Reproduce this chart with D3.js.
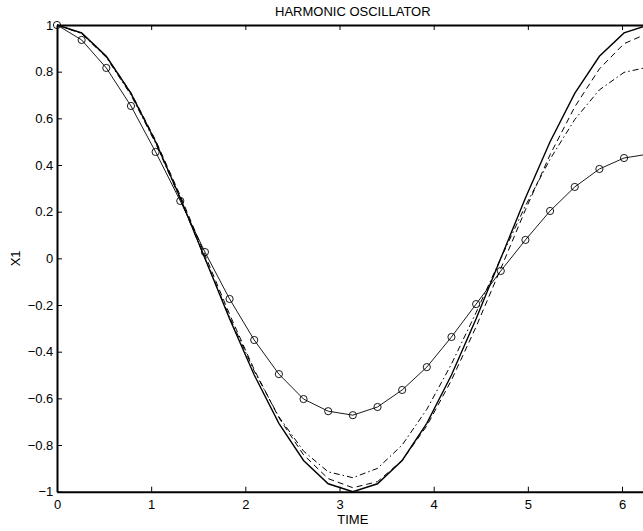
<!DOCTYPE html>
<html>
<head>
<meta charset="utf-8">
<script src="https://cdn.jsdelivr.net/npm/d3@7"></script>
<style>
  body { margin: 0; background: #fff; }
  svg { display: block; font-family: "Liberation Sans", Arial, sans-serif; }
  .axis text { font-size: 13px; fill: #000; }
  .axis path.domain { stroke: #000; stroke-width: 2; }
  .axis line { stroke: #000; }
</style>
</head>
<body>
<div id="plot"></div>
<script>

// time steps (pi/12)
const time = [0, 0.2618, 0.5236, 0.7854, 1.0472, 1.309, 1.5708, 1.8326, 2.0944, 2.3562,
  2.618, 2.8798, 3.1416, 3.4034, 3.6652, 3.927, 4.1888, 4.4506, 4.7124, 4.9742,
  5.236, 5.4978, 5.7596, 6.0214, 6.2832];

// solid line
const exact = [1, 0.966, 0.866, 0.707, 0.5, 0.259, 0, -0.259, -0.5, -0.707,
  -0.866, -0.966, -1, -0.966, -0.866, -0.707, -0.5, -0.259, 0, 0.259,
  0.5, 0.707, 0.866, 0.966, 1];

// dashed line
const dashed = [1, 0.965, 0.866, 0.71, 0.506, 0.269, 0.015, -0.24, -0.477, -0.683,
  -0.842, -0.944, -0.983, -0.957, -0.866, -0.718, -0.522, -0.293, -0.044, 0.208,
  0.444, 0.649, 0.812, 0.92, 0.966];

// dash-dot line
const dashDot = [1, 0.963, 0.861, 0.7, 0.493, 0.254, 0, -0.252, -0.483, -0.679,
  -0.826, -0.915, -0.94, -0.9, -0.8, -0.647, -0.453, -0.232, 0, 0.225,
  0.425, 0.595, 0.722, 0.797, 0.82];

// solid line with circles
const circles = [1, 0.936, 0.816, 0.653, 0.456, 0.246, 0.027, -0.174, -0.35, -0.496,
  -0.603, -0.655, -0.672, -0.637, -0.564, -0.466, -0.337, -0.196, -0.054, 0.079,
  0.203, 0.306, 0.383, 0.43, 0.447];

const xTicks = [0, 1, 2, 3, 4, 5, 6];
const yTicks = [-1, -0.8, -0.6, -0.4, -0.2, 0, 0.2, 0.4, 0.6, 0.8, 1];
const yTickLabels = ["\u22121", "\u22120.8", "\u22120.6", "\u22120.4", "\u22120.2", "0", "0.2", "0.4", "0.6", "0.8", "1"];

const size = { width: 643, height: 531 };
const box = { left: 57, right: 648.7, top: 25, bottom: 491.7 };

const svg = d3.select("#plot")
  .append("svg")
  .attr("width", size.width)
  .attr("height", size.height);

const x = d3.scaleLinear().domain([0, 6.2832]).range([box.left, box.right]);
const y = d3.scaleLinear().domain([-1, 1]).range([box.bottom, box.top]);

svg.append("defs")
  .append("clipPath")
  .attr("id", "clip_plot")
  .append("rect")
  .attr("x", box.left - 5)
  .attr("y", box.top - 5)
  .attr("width", box.right - box.left + 10)
  .attr("height", box.bottom - box.top + 10);

const canvas = svg.append("g").attr("clip-path", "url(#clip_plot)");

// series lines
const series = [
  { values: exact, width: 1.4, dash: null },
  { values: dashed, width: 1, dash: "6,4" },
  { values: dashDot, width: 1, dash: "6,3,1.5,3" },
  { values: circles, width: 0.9, dash: null }
];

const line = d3.line()
  .x(d => x(d[0]))
  .y(d => y(d[1]));

series.forEach(s => {
  canvas.append("path")
    .datum(time.map((t, i) => [t, s.values[i]]))
    .attr("d", line)
    .attr("fill", "none")
    .attr("stroke", "#000")
    .attr("stroke-width", s.width)
    .attr("stroke-dasharray", s.dash);
});

// circle markers
canvas.selectAll("circle.marker")
  .data(time.map((t, i) => [t, circles[i]]))
  .join("circle")
  .attr("class", "marker")
  .attr("cx", d => x(d[0]))
  .attr("cy", d => y(d[1]))
  .attr("r", 3.6)
  .attr("fill", "none")
  .attr("stroke", "#000")
  .attr("stroke-width", 0.9);

// axes box, ticks point inward
svg.append("g")
  .attr("class", "x axis")
  .attr("transform", `translate(0,${box.bottom})`)
  .call(d3.axisBottom(x).tickValues(xTicks).tickFormat(d3.format("d"))
    .tickSizeInner(-5).tickSizeOuter(0).tickPadding(8.5));

svg.append("g")
  .attr("class", "x axis top")
  .attr("transform", `translate(0,${box.top})`)
  .call(d3.axisTop(x).tickValues(xTicks).tickFormat("")
    .tickSizeInner(-5).tickSizeOuter(0));

svg.append("g")
  .attr("class", "y axis")
  .attr("transform", `translate(${box.left},0)`)
  .call(d3.axisLeft(y).tickValues(yTicks).tickFormat((d, i) => yTickLabels[i])
    .tickSizeInner(-5).tickSizeOuter(0).tickPadding(3.7));

svg.append("g")
  .attr("class", "y axis right")
  .attr("transform", `translate(${box.right},0)`)
  .call(d3.axisRight(y).tickValues(yTicks).tickFormat("")
    .tickSizeInner(-5).tickSizeOuter(0));

svg.selectAll(".axis .tick line").attr("stroke-width", 1);

// titles
svg.append("text")
  .attr("x", (box.left + box.right) / 2)
  .attr("y", 16)
  .attr("text-anchor", "middle")
  .attr("font-size", 13)
  .text("HARMONIC OSCILLATOR");

svg.append("text")
  .attr("x", (box.left + box.right) / 2)
  .attr("y", 524)
  .attr("text-anchor", "middle")
  .attr("font-size", 13)
  .text("TIME");

svg.append("text")
  .attr("transform", `rotate(-90,20.5,${(box.top + box.bottom) / 2})`)
  .attr("x", 20.5)
  .attr("y", (box.top + box.bottom) / 2)
  .attr("text-anchor", "middle")
  .attr("font-size", 13)
  .text("X1");

</script>
</body>
</html>
